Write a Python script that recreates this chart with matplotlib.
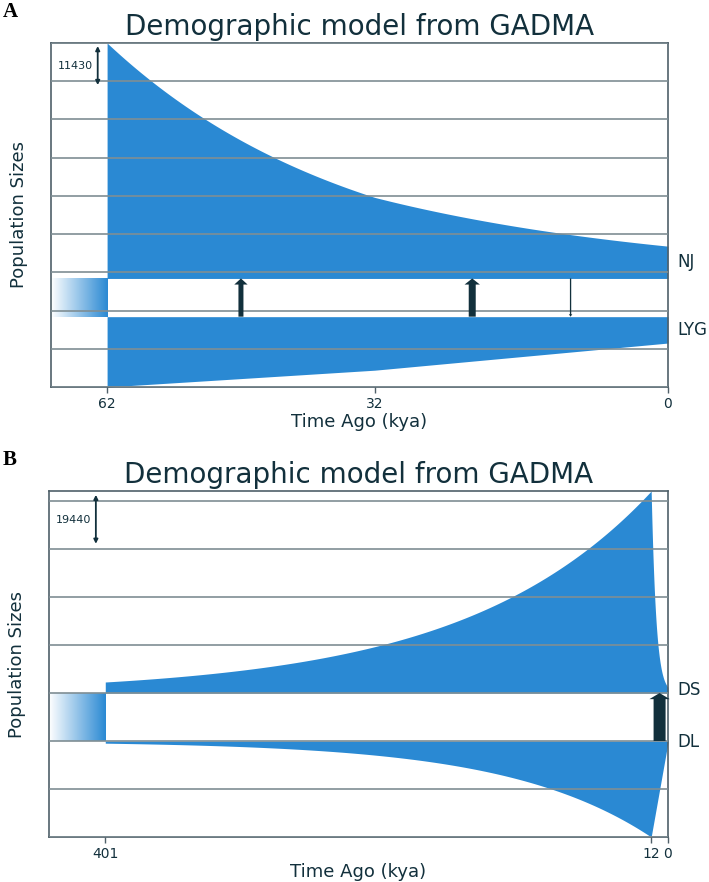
import numpy as np
import matplotlib
matplotlib.use("Agg")
import matplotlib.pyplot as plt
import matplotlib.transforms as mtransforms
from matplotlib.colors import LinearSegmentedColormap

# ---------------- data ----------------
# Panel A (sizes in units of Nref, times in kya)
A_nref = 11430
A_times = [61.6, 32.2, 0.0]
A_tick_labels = ["62", "32", "0"]
A_bottom_pop = "LYG"
A_top_pop = "NJ"
A_bottom_sizes = [1.84, 1.40, 0.69]
A_bottom_kind = ["lin", "lin"]
A_top_sizes = [6.16, 2.12, 0.845]
A_top_kind = ["exp", "exp"]
A_mig_times = [46.9, 21.5, 10.7]
A_mig_dirs = ["up", "up", "down"]
A_mig_rates = [1.0, 1.4, 0.26]

# Panel B
B_nref = 19440
B_times = [401.0, 12.0, 0.0]
B_tick_labels = ["401", "12", "0"]
B_bottom_pop = "DL"
B_top_pop = "DS"
B_bottom_sizes = [0.045, 2.00, 0.03]
B_bottom_kind = ["exp", "lin"]
B_top_sizes = [0.23, 4.21, 0.12]
B_top_kind = ["exp", "exp"]
B_mig_times = [6.0]
B_mig_dirs = ["up"]
B_mig_rates = [2.4]

# ---------------- style ----------------
BLUE = "#2a89d3"
DARK = "#12303c"
GRID = "#7f8e94"
SPINE = "#4f6069"
GAP = 1.0  # ancestral size / gap between populations (Nref units)

plt.rcParams["font.family"] = ["DejaVu Sans"]


def curve(times, sizes, kinds, n=300):
    ts, ss = [], []
    for i in range(len(times) - 1):
        t0, t1 = times[i], times[i + 1]
        s0, s1 = sizes[i], sizes[i + 1]
        t = np.linspace(t0, t1, n)
        f = (t0 - t) / (t0 - t1)
        if kinds[i] == "exp":
            s = s0 * (s1 / s0) ** f
        else:
            s = s0 + (s1 - s0) * f
        ts.append(t)
        ss.append(s)
    return np.concatenate(ts), np.concatenate(ss)


def draw_panel(ax, nref, times, ticklabels, bpop, bsizes, bkind, tpop, tsizes,
               tkind, mtimes, mdirs, mrates):
    tb, sb = curve(times, bsizes, bkind)
    tt, st = curve(times, tsizes, tkind)
    b_top = max(bsizes)
    t_base = b_top + GAP
    y_top = t_base + max(tsizes)
    T = times[0]
    x_left = T * 1.1

    ax.fill_between(tb, b_top - sb, b_top, color=BLUE, lw=0, zorder=1)
    ax.fill_between(tt, t_base, t_base + st, color=BLUE, lw=0, zorder=1)

    # ancestral population gradient
    cmap = LinearSegmentedColormap.from_list("anc", ["#ffffff", BLUE])
    grad = np.linspace(0, 1, 256)[None, :]
    ax.imshow(grad, extent=[x_left, T, b_top, t_base], cmap=cmap,
              aspect="auto", interpolation="bicubic", zorder=1)

    ax.set_xlim(x_left, 0)
    ax.set_ylim(0, y_top)

    # grid
    ax.set_yticks(np.arange(0, y_top + 1e-6, 1.0))
    ax.set_yticklabels([])
    ax.tick_params(axis="y", length=0)
    ax.set_axisbelow(False)
    ax.yaxis.grid(True, color=GRID, lw=1.2)
    ax.set_xticks(times)
    ax.set_xticklabels(ticklabels)
    ax.tick_params(axis="x", colors=DARK, labelsize=10, length=4, width=1,
                   color=SPINE)
    for s in ax.spines.values():
        s.set_color(SPINE)
        s.set_linewidth(1.2)

    # migration arrows
    for mt, md, mr in zip(mtimes, mdirs, mrates):
        tw = 3.6 * mr
        hw = tw + 6.0 * min(1.0, mr)
        hl = 3.6 * min(1.0, mr) + 0.8
        if md == "up":
            y0, y1 = b_top, t_base
        else:
            y0, y1 = t_base, b_top
        ax.annotate("", xy=(mt, y1), xytext=(mt, y0),
                    arrowprops=dict(
                        arrowstyle=f"simple,head_length={hl/10},head_width={hw/10},tail_width={tw/10}",
                        mutation_scale=10, color=DARK, lw=0,
                        shrinkA=0, shrinkB=0), zorder=4)

    # scale bar
    trans = mtransforms.blended_transform_factory(ax.transAxes, ax.transData)
    ax.annotate("", xy=(0.0757, y_top - 0.08), xytext=(0.0757, y_top - 1.1),
                xycoords=trans, textcoords=trans,
                arrowprops=dict(arrowstyle="<|-|>", color=DARK, lw=1.3,
                                shrinkA=0, shrinkB=0, mutation_scale=6))
    ax.text(0.068, y_top - 0.6, str(nref), transform=trans, ha="right",
            va="center", fontsize=8, color=DARK)

    # population labels
    ax.annotate(tpop, xy=(0, t_base + tsizes[-1] / 2), xytext=(7, 0),
                textcoords="offset points", ha="left", va="center",
                fontsize=12, color=DARK, annotation_clip=False)
    ax.annotate(bpop, xy=(0, b_top - bsizes[-1] / 2), xytext=(7, 0),
                textcoords="offset points", ha="left", va="center",
                fontsize=12, color=DARK, annotation_clip=False)

    ax.set_title("Demographic model from GADMA", fontsize=20, color=DARK)
    ax.set_xlabel("Time Ago (kya)", fontsize=13, color=DARK, labelpad=1)
    ax.set_ylabel("Population Sizes", fontsize=13, color=DARK, va="center")
    ax.yaxis.set_label_coords(-0.052, 0.5)


fig = plt.figure(figsize=(7.09, 8.82), dpi=100)
axA = fig.add_axes([51 / 709, 1 - 387 / 882, 617 / 709, 344 / 882])
axB = fig.add_axes([49 / 709, 1 - 837 / 882, 619 / 709, 346 / 882])

draw_panel(axA, A_nref, A_times, A_tick_labels, A_bottom_pop, A_bottom_sizes,
           A_bottom_kind, A_top_pop, A_top_sizes, A_top_kind, A_mig_times,
           A_mig_dirs, A_mig_rates)
draw_panel(axB, B_nref, B_times, B_tick_labels, B_bottom_pop, B_bottom_sizes,
           B_bottom_kind, B_top_pop, B_top_sizes, B_top_kind, B_mig_times,
           B_mig_dirs, B_mig_rates)

fig.text(3 / 709, 1 - 12 / 882, "A", fontsize=15, fontweight="bold",
         family="Liberation Serif", color="black", va="center", ha="left")
fig.text(3 / 709, 1 - 460 / 882, "B", fontsize=15, fontweight="bold",
         family="Liberation Serif", color="black", va="center", ha="left")

fig.savefig("out.png", dpi=100)
